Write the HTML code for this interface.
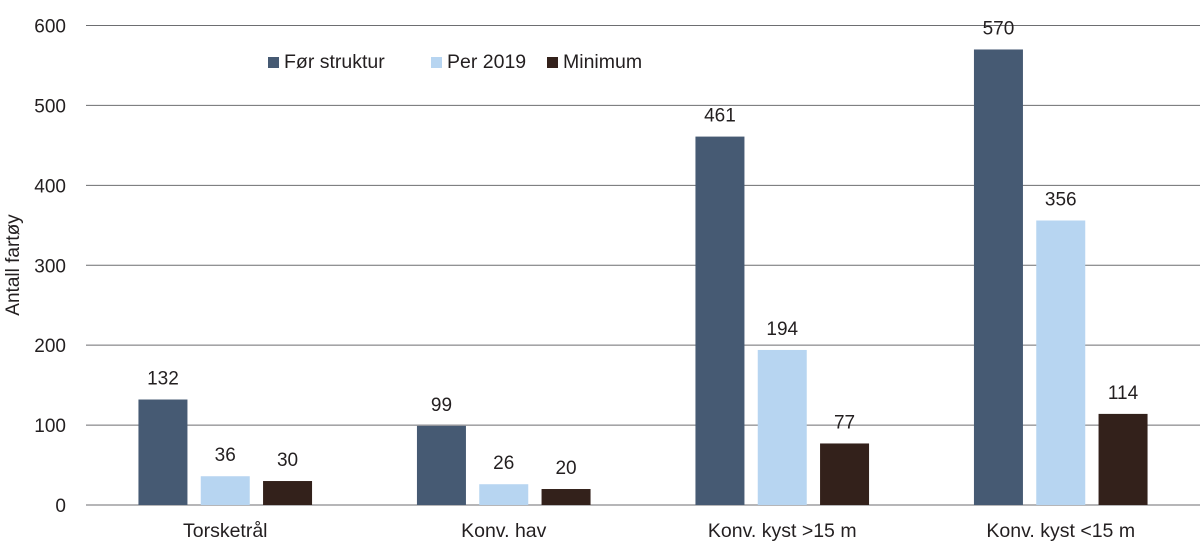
<!DOCTYPE html>
<html><head><meta charset="utf-8"><style>
body{margin:0;background:#fff;}
svg{display:block;font-family:"Liberation Sans",sans-serif;}
</style></head><body>
<svg id="chart" width="1200" height="558">
<g id="grid"></g><g id="bars"></g><g id="labels"></g>
<text x="19" y="265" transform="rotate(-90 19 265)" text-anchor="middle" font-size="19" fill="#231f20">Antall fartøy</text>
<g>
<rect x="268" y="57" width="11" height="11" fill="#465a73"/>
<text x="284" y="68" font-size="19.5" fill="#231f20">Før struktur</text>
<rect x="431" y="57" width="11" height="11" fill="#b7d5f1"/>
<text x="447" y="68" font-size="19.5" fill="#231f20">Per 2019</text>
<rect x="547" y="57" width="11" height="11" fill="#33211b"/>
<text x="563" y="68" font-size="19.5" fill="#231f20">Minimum</text>
</g>
</svg>
<script>
const categories=["Torsketrål","Konv. hav","Konv. kyst >15 m","Konv. kyst <15 m"];
const forStruktur=[132,99,461,570];
const per2019=[36,26,194,356];
const minimum=[30,20,77,114];
const yTicks=[0,100,200,300,400,500,600];
const seriesNames=["for-struktur","per-2019","minimum"];
const colors=["#465a73","#b7d5f1","#33211b"];
const NS="http://www.w3.org/2000/svg";
const x0=86,x1=1200,yBase=505,yTop=25.5,yMax=600;
const y=v=>yBase-(v/yMax)*(yBase-yTop);
const groupW=(x1-x0)/categories.length;
const barW=49,step=62.3;
function mk(tag,attrs,parent){const e=document.createElementNS(NS,tag);for(const k in attrs)e.setAttribute(k,attrs[k]);parent.appendChild(e);return e;}
const grid=document.getElementById('grid'),bars=document.getElementById('bars'),labels=document.getElementById('labels');
yTicks.forEach(t=>{
  const l=mk('line',{x1:x0,x2:x1,y1:y(t),y2:y(t),stroke:'#6d6e71','stroke-width':1},grid);
  
  
  const tx=mk('text',{x:66,y:y(t)+7,'text-anchor':'end','font-size':19,fill:'#231f20'},grid);
  tx.textContent=t;
  
  
});
const series=[forStruktur,per2019,minimum];
categories.forEach((c,i)=>{
  const cx=x0+groupW*(i+0.5);
  series.forEach((s,j)=>{
    const bx=cx+(j-1)*step-barW/2;
    const r=mk('rect',{x:bx,y:y(s[i]),width:barW,height:yBase-y(s[i]),fill:colors[j]},bars);
    
    
    const t=mk('text',{x:bx+barW/2,y:y(s[i])-15,'text-anchor':'middle','font-size':19,fill:'#231f20'},labels);
    t.textContent=s[i];
    
    
  });
  const ct=mk('text',{x:cx,y:537,'text-anchor':'middle','font-size':19.5,fill:'#231f20'},labels);
  ct.textContent=c;
  
  
});
</script>
</body></html>
